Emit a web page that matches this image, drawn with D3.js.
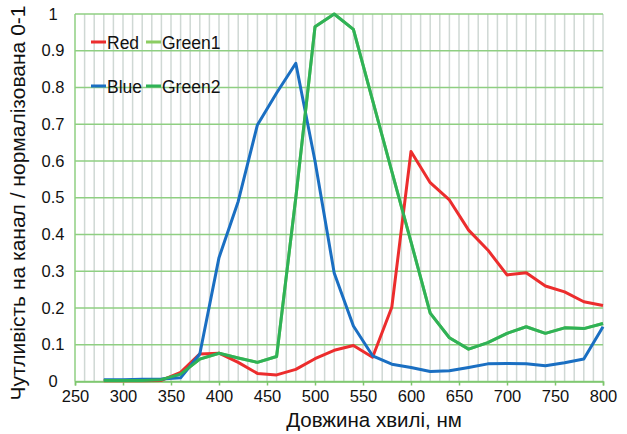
<!DOCTYPE html>
<html>
<head>
<meta charset="utf-8">
<script src="https://cdn.jsdelivr.net/npm/d3@7"></script>
<style>
  body { margin: 0; background: #fff; }
  svg { font-family: "Liberation Sans", Arial, sans-serif; }
</style>
</head>
<body>
<svg width="627" height="434"></svg>
<script>
// wavelength, nm
var wavelengths = [280, 300, 320, 340, 360, 380, 400, 420, 440, 460, 480, 500, 520, 540,
                   560, 580, 600, 620, 640, 660, 680, 700, 720, 740, 760, 780, 800];

var red    = [0.002, 0.002, 0.002, 0.003, 0.025, 0.075, 0.077, 0.052, 0.022, 0.018, 0.033, 0.062, 0.085, 0.098,
              0.066, 0.202, 0.626, 0.541, 0.494, 0.412, 0.358, 0.290, 0.296, 0.260, 0.244, 0.217, 0.207];
var blue   = [0.005, 0.005, 0.006, 0.007, 0.010, 0.075, 0.337, 0.490, 0.698, 0.785, 0.866, 0.600, 0.295, 0.151,
              0.070, 0.047, 0.038, 0.027, 0.029, 0.038, 0.048, 0.049, 0.048, 0.043, 0.051, 0.061, 0.149];
var green1 = [0.003, 0.003, 0.003, 0.005, 0.020, 0.061, 0.077, 0.064, 0.052, 0.068, 0.500, 0.965, 1.000, 0.958,
              0.765, 0.572, 0.380, 0.186, 0.119, 0.088, 0.106, 0.131, 0.149, 0.131, 0.146, 0.144, 0.158];
var green2 = [0.003, 0.003, 0.003, 0.005, 0.020, 0.061, 0.077, 0.064, 0.052, 0.068, 0.500, 0.965, 1.000, 0.958,
              0.765, 0.572, 0.380, 0.186, 0.119, 0.088, 0.106, 0.131, 0.149, 0.131, 0.146, 0.144, 0.158];

var xTicks = [250, 300, 350, 400, 450, 500, 550, 600, 650, 700, 750, 800];
var yTicks = [0, 0.1, 0.2, 0.3, 0.4, 0.5, 0.6, 0.7, 0.8, 0.9, 1];

var series = [
    { name: "Green1", values: green1, color: "#8ccd62" },
    { name: "Red",    values: red,    color: "#ec2d2d" },
    { name: "Blue",   values: blue,   color: "#1a6fc2" },
    { name: "Green2", values: green2, color: "#2fb257" }
];

var svg = d3.select("svg");
var plotLeft = 75, plotRight = 603, plotTop = 14, plotBottom = 381.5;

var x = d3.scaleLinear().domain([250, 800]).range([plotLeft, plotRight]);
var y = d3.scaleLinear().domain([0, 1]).range([plotBottom, plotTop]);

// vertical grid every 10 nm
svg.append("g")
    .selectAll("line")
    .data(d3.range(260, 801, 10))
    .enter().append("line")
        .attr("x1", d => x(d)).attr("x2", d => x(d))
        .attr("y1", plotTop).attr("y2", plotBottom)
        .attr("stroke", "#cfd8d4")
        .attr("stroke-width", 1.5);

// horizontal grid
svg.append("g")
    .selectAll("line")
    .data(yTicks)
    .enter().append("line")
        .attr("x1", plotLeft).attr("x2", plotRight)
        .attr("y1", d => y(d)).attr("y2", d => y(d))
        .attr("stroke", "#8fcf82")
        .attr("stroke-width", 1.5);

// left axis line
svg.append("line")
    .attr("x1", plotLeft).attr("x2", plotLeft)
    .attr("y1", plotTop).attr("y2", plotBottom)
    .attr("stroke", "#8fcf82").attr("stroke-width", 1.5);

// x axis
var xAxis = svg.append("g")
    .attr("transform", "translate(0," + plotBottom + ")")
    .call(d3.axisBottom(x).tickValues(xTicks).tickSize(4).tickPadding(5).tickFormat(d3.format("d")));
xAxis.select(".domain").attr("stroke", "#7cc66c").attr("stroke-width", 1.5);
xAxis.selectAll(".tick line").attr("stroke", "#7cc66c").attr("stroke-width", 1.5);
xAxis.selectAll(".tick text")
    .attr("fill", "#111").attr("font-size", 16.5)
    .style("font-family", "Liberation Sans, Arial, sans-serif");

// y labels (centered like the original)
svg.append("g")
    .selectAll("text")
    .data(yTicks)
    .enter().append("text")
        .attr("x", 53)
        .attr("y", d => y(d) + 5.5)
        .attr("text-anchor", "middle")
        .attr("font-size", 16.5)
        .attr("fill", "#111")
        .text(d => d === 0 || d === 1 ? String(d) : d.toFixed(1));

var line = d3.line()
    .x((d, i) => x(wavelengths[i]))
    .y(d => y(d));

svg.append("g")
    .selectAll("path")
    .data(series)
    .enter().append("path")
        .attr("d", d => line(d.values))
        .attr("fill", "none")
        .attr("stroke", d => d.color)
        .attr("stroke-width", 3)
        .attr("stroke-linejoin", "round");

// legend
var legendItems = [
    { name: "Red",    color: "#ec2d2d", x: 91,  y: 42 },
    { name: "Green1", color: "#8ccd62", x: 146, y: 42 },
    { name: "Blue",   color: "#1a6fc2", x: 91,  y: 86 },
    { name: "Green2", color: "#2fb257", x: 146, y: 86 }
];
var lg = svg.append("g")
    .selectAll("g")
    .data(legendItems)
    .enter().append("g")
        .attr("transform", d => "translate(" + d.x + "," + d.y + ")");
lg.append("rect")
    .attr("x", 0).attr("y", -1.5)
    .attr("width", 15).attr("height", 3)
    .attr("fill", d => d.color);
lg.append("text")
    .attr("x", 16).attr("y", 6.5)
    .attr("font-size", 17.5)
    .attr("fill", "#111")
    .text(d => d.name);

// axis titles
svg.append("text")
    .attr("x", 374)
    .attr("y", 427)
    .attr("text-anchor", "middle")
    .attr("font-size", 20.5)
    .attr("fill", "#111")
    .text("Довжина хвилі, нм");

svg.append("text")
    .attr("transform", "translate(25,203) rotate(-90)")
    .attr("text-anchor", "middle")
    .attr("font-size", 21)
    .attr("fill", "#111")
    .text("Чутливість на канал / нормалізована 0-1");
</script>
</body>
</html>
